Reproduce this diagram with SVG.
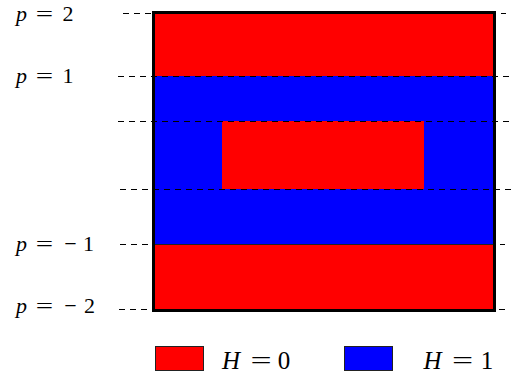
<svg xmlns="http://www.w3.org/2000/svg" width="511" height="378" viewBox="0 0 511 378">
<style>
.dash{stroke:#000;stroke-width:1;stroke-dasharray:6 5;fill:none}
.t{font-family:"Liberation Serif","Times New Roman",serif;fill:#000;text-anchor:middle}
.i{font-style:italic}
.pl{font-size:22px}
.lg{font-size:25px}
</style>
<rect width="511" height="378" fill="#fff"/>
<g id="regions">
<rect x="154" y="13" width="340" height="63" fill="#ff0000"/>
<rect x="154" y="76" width="340" height="168" fill="#0000ff"/>
<rect x="154" y="244" width="340" height="66" fill="#ff0000"/>
<rect x="222" y="121" width="202" height="68" fill="#ff0000"/>
<line x1="154" y1="244.5" x2="494" y2="244.5" stroke="#222" stroke-width="1"/>
</g>
<g id="connectors">
<line class="dash" x1="123" y1="13.5" x2="153" y2="13.5"/>
<line class="dash" x1="118" y1="76.5" x2="511" y2="76.5"/>
<line class="dash" x1="118" y1="121.5" x2="511" y2="121.5"/>
<line class="dash" x1="120" y1="189.5" x2="511" y2="189.5"/>
<line class="dash" x1="120" y1="244.5" x2="153" y2="244.5"/>
<line class="dash" x1="119" y1="309.5" x2="153" y2="309.5"/>
<line class="dash" x1="501" y1="13.5" x2="506" y2="13.5"/>
<line class="dash" x1="500" y1="244.5" x2="505" y2="244.5"/>
<line class="dash" x1="499" y1="309.5" x2="505" y2="309.5"/>
</g>
<g id="box">
<rect x="153.5" y="12.5" width="341" height="298" fill="none" stroke="#000" stroke-width="3"/>
</g>
<g id="label-p2">
<text class="t pl i" x="21.5" y="21">p</text>
<text class="t pl" x="44.5" y="21" transform="translate(44.5 0) scale(1.4 1) translate(-44.5 0)">=</text>
<text class="t pl" x="68" y="21">2</text>
</g>
<g id="label-p1">
<text class="t pl i" x="21.5" y="83">p</text>
<text class="t pl" x="44.5" y="83" transform="translate(44.5 0) scale(1.4 1) translate(-44.5 0)">=</text>
<text class="t pl" x="68" y="83">1</text>
</g>
<g id="label-pm1">
<text class="t pl i" x="21.5" y="251">p</text>
<text class="t pl" x="44.5" y="251" transform="translate(44.5 0) scale(1.4 1) translate(-44.5 0)">=</text>
<text class="t pl" x="70.5" y="251">−</text>
<text class="t pl" x="88.5" y="251">1</text>
</g>
<g id="label-pm2">
<text class="t pl i" x="21.5" y="313">p</text>
<text class="t pl" x="44.5" y="313" transform="translate(44.5 0) scale(1.4 1) translate(-44.5 0)">=</text>
<text class="t pl" x="70.5" y="313">−</text>
<text class="t pl" x="89.5" y="313">2</text>
</g>
<g id="legend-h0">
<rect x="155.5" y="346.5" width="48" height="24" fill="#ff0000" stroke="#222" stroke-width="1"/>
<text class="t lg i" x="231" y="369">H</text>
<text class="t lg" x="261" y="369" transform="translate(261 0) scale(1.5 1) translate(-261 0)">=</text>
<text class="t lg" x="284" y="369">0</text>
</g>
<g id="legend-h1">
<rect x="344.5" y="346.5" width="48" height="24" fill="#0000ff" stroke="#222" stroke-width="1"/>
<text class="t lg i" x="432.5" y="369">H</text>
<text class="t lg" x="462.5" y="369" transform="translate(462.5 0) scale(1.5 1) translate(-462.5 0)">=</text>
<text class="t lg" x="487" y="369">1</text>
</g>
</svg>
